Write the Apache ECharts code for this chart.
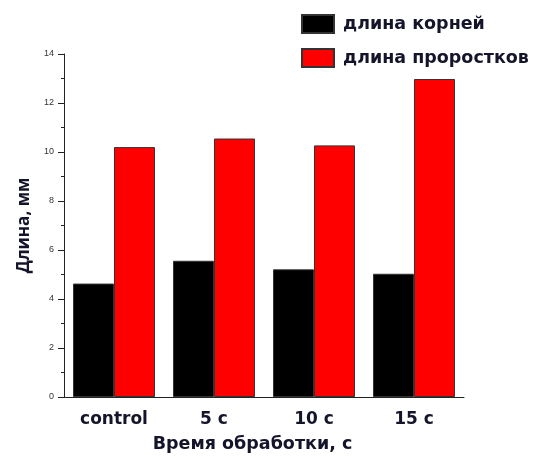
<!DOCTYPE html>
<html>
<head>
<meta charset="utf-8">
<script src="https://cdn.jsdelivr.net/npm/echarts@6/dist/echarts.min.js"></script>
<style>html,body{margin:0;padding:0;background:#fff}#c{width:537px;height:458px}</style>
</head>
<body>
<div id="c"></div>
<script>
const categories = ['control', '5 c', '10 c', '15 c'];
const rootLength = [4.63, 5.56, 5.21, 5.03];
const sproutLength = [10.2, 10.55, 10.27, 12.98];
const seriesNames = ['длина корней', 'длина проростков'];
const yTicks = { min: 0, max: 14, interval: 2 };

const chart = echarts.init(document.getElementById('c'));
const txt = '#14142a';
const font = '"DejaVu Sans", sans-serif';
chart.setOption({
  animation: false,
  backgroundColor: '#fff',
  grid: { left: 64, top: 54, right: 73, bottom: 60 },
  legend: {
    orient: 'vertical', left: 296, top: 9, itemGap: 14,
    itemWidth: 32, itemHeight: 18, icon: 'rect',
    textStyle: { fontFamily: font, fontWeight: 'bold', fontSize: 17.5, color: txt, padding: [0, 0, 0, 4] },
    data: seriesNames
  },
  xAxis: [{
    type: 'category', data: categories, position: 'bottom',
    axisLine: { lineStyle: { color: '#222', width: 1 } },
    axisTick: { length: 5, lineStyle: { color: '#222' } },
    axisLabel: { fontFamily: font, fontWeight: 'bold', fontSize: 17, color: txt, margin: 14 },
    name: 'Время обработки, с', nameLocation: 'middle', nameGap: 38,
    nameTextStyle: { fontFamily: font, fontWeight: 'bold', fontSize: 17.5, color: txt, padding: [0, 23, 0, 0] }
  }, {
    type: 'category', data: categories, position: 'bottom',
    axisLine: { show: false },
    axisTick: { alignWithLabel: true, length: 7, lineStyle: { color: '#222' } },
    axisLabel: { show: false }
  }],
  yAxis: {
    type: 'value', min: yTicks.min, max: yTicks.max, interval: yTicks.interval,
    axisLine: { show: true, lineStyle: { color: '#222', width: 1 } },
    axisTick: { show: true, length: 6, lineStyle: { color: '#222' } },
    minorTick: { show: true, splitNumber: 2, length: 3, lineStyle: { color: '#222' } },
    splitLine: { show: false },
    axisLabel: { fontFamily: 'Arial, "Liberation Sans", sans-serif', fontSize: 9, color: '#333', margin: 10 },
    name: 'Длина, мм', nameLocation: 'middle', nameGap: 26, nameRotate: 90,
    nameTextStyle: { fontFamily: '"Open Sans", sans-serif', fontWeight: 'bold', fontSize: 17, color: txt }
  },
  series: [{
    name: seriesNames[0], type: 'bar', data: rootLength, xAxisIndex: 0,
    barGap: '0%', barCategoryGap: '18%',
    itemStyle: { color: '#000', borderColor: '#333', borderWidth: 1 }
  }, {
    name: seriesNames[1], type: 'bar', data: sproutLength, xAxisIndex: 0,
    barGap: '0%', barCategoryGap: '18%',
    itemStyle: { color: '#ff0000', borderColor: '#333', borderWidth: 1 }
  }]
});
</script>
</body>
</html>
